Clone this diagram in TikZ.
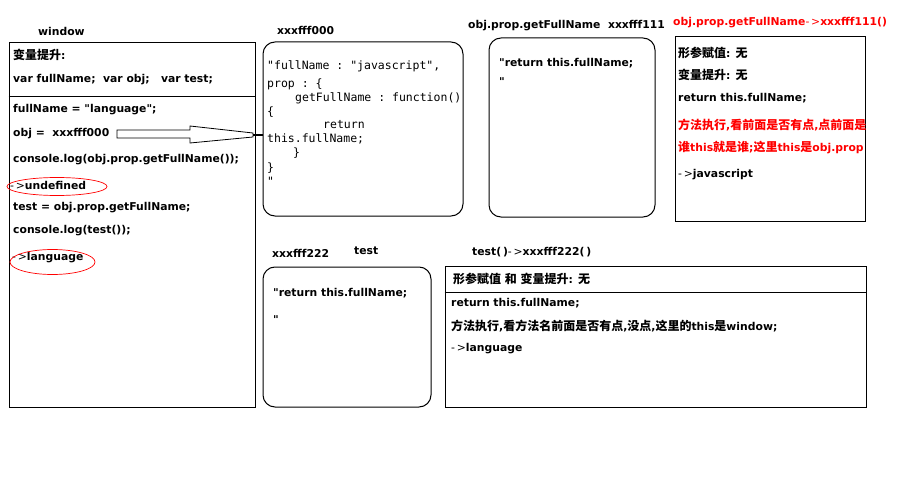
\documentclass[tikz,border=0pt]{standalone}
\usepackage{fontspec}
\setmainfont{DejaVu Sans}
\setmonofont{DejaVu Sans Mono}
\newfontfamily\cjk{Noto Sans CJK SC}
\newcommand\zh[1]{{\cjk\fontsize{12}{14}\selectfont #1}}
\newcommand\q{\textquotedbl}
\usetikzlibrary{calc,shapes.geometric}

\begin{document}
\begin{tikzpicture}[x=1pt,y=-1pt,
	txt/.style={anchor=west,inner sep=0pt,font=\fontsize{10.8}{13}\selectfont\bfseries},
	codetxt/.style={anchor=west,inner sep=0pt,font=\fontsize{11.5}{13}\selectfont\ttfamily},
	hot/.style={txt,red},
	frame/.style={draw,line width=1pt,inner sep=0pt},
	memory/.style={frame,rounded corners=12pt},
	oval/.style={draw=red,ellipse,line width=0.7pt,inner sep=0pt}]
	\useasboundingbox[fill=white](0,0)rectangle(910,492);
	% window scope
	\node[txt] (wintitle) at (38,31) {window};
	\node[frame,minimum width=246,minimum height=364] (win) at (132,225) {};
	\draw[line width=1pt] (win.west|-0,97)--(win.east|-0,97);
	\node[txt] (hoist) at (13,55) {\zh{变量提升}:};
	\node[txt] (vars) at (13,80) {var fullName;\ \ var obj;\ \ \ var test;};
	\node[txt] (setname) at (13,110) {fullName = \q language\q;};
	\node[txt] (objline) at (13,134) {obj =\ \ xxxfff000};
	\node[txt] (log1) at (13,160) {console.log(obj.prop.getFullName());};
	\node[txt] (res1) at (10,185) {{\mdseries -\,>}undefined};
	\node[txt] (settest) at (13,208) {test = obj.prop.getFullName;};
	\node[txt] (log2) at (13,231) {console.log(test());};
	\node[txt] (res2) at (12,258) {{\mdseries -\,>}language};
	\node[oval,minimum width=100,minimum height=18] (oval1) at (57,186.5) {};
	\node[oval,minimum width=85,minimum height=25] (oval2) at (52.5,262) {};
	% heap object xxxfff000
	\node[txt] (mem0title) at (277,30) {xxxfff000};
	\node[memory,minimum width=200,minimum height=174] (mem0) at (363,129) {};
	\node[codetxt] (c1) at (267,66) {"fullName : "javascript",};
	\node[codetxt] (c2) at (267,84) {prop : \{};
	\node[codetxt] (c3) at (295,98) {getFullName : function()};
	\node[codetxt] (c4) at (267,112) {\{};
	\node[codetxt] (c5) at (323,125) {return};
	\node[codetxt] (c6) at (267,139) {this.fullName;};
	\node[codetxt] (c7) at (293,153) {\}};
	\node[codetxt] (c8) at (267,168) {\}};
	\node[codetxt] (c9) at (267,181) {"};
	% fat arrow obj -> xxxfff000
	\coordinate (arrowtail) at (117,134);
	\draw[line width=0.8pt] (arrowtail)++(0,-4)--++(73,0)--++(0,-4)--++(63,7)--++(0,4)
		--++(-63,6)--++(0,-5)--++(-73,0)--cycle;
	\draw[line width=2pt] ($(arrowtail)+(136,1)$)--($(mem0.west|-arrowtail)+(0,1)$);
	% heap function xxxfff111
	\node[txt] (mem1title) at (468,26) {obj.prop.getFullName\ \ xxxfff111};
	\node[memory,minimum width=166,minimum height=179] (mem1) at (572,127.5) {};
	\node[txt] (f1a) at (499,63) {\q return this.fullName;};
	\node[txt] (f1b) at (499,82) {\q};
	% execution of obj.prop.getFullName()
	\node[hot] (ctx1title) at (673,23) {obj.prop.getFullName{\mdseries -\,>}xxxfff111()};
	\node[frame,minimum width=190,minimum height=184] (ctx1) at (770,129) {};
	\node[txt] (e1) at (678,53) {\zh{形参赋值}: \zh{无}};
	\node[txt] (e2) at (678,75) {\zh{变量提升}: \zh{无}};
	\node[txt] (e3) at (678,98) {return this.fullName;};
	\node[hot] (e4) at (678,125) {\zh{方法执行},\zh{看前面是否有点},\zh{点前面是}};
	\node[hot] (e5) at (678,147) {\zh{谁}this\zh{就是谁};\zh{这里}this\zh{是}obj.prop};
	\node[txt] (e6) at (678,175) {{\mdseries -\,>}javascript};
	% heap function xxxfff222
	\node[txt] (mem2title) at (272,253) {xxxfff222};
	\node[txt] (testname) at (354,251) {test};
	\node[memory,minimum width=168,minimum height=140] (mem2) at (347,337) {};
	\node[txt] (f2a) at (273,293) {\q return this.fullName;};
	\node[txt] (f2b) at (273,320) {\q};
	% execution of test()
	\node[txt] (ctx2title) at (472,252) {test(\,){\mdseries -\,>}xxxfff222(\,)};
	\node[frame,minimum width=421,minimum height=141] (ctx2) at (655.5,336.5) {};
	\draw[line width=1pt] (ctx2.west|-0,292)--(ctx2.east|-0,292);
	\node[txt] (g1) at (453,279) {\zh{形参赋值} \zh{和} \zh{变量提升}: \zh{无}};
	\node[txt] (g2) at (451,303) {return this.fullName;};
	\node[txt] (g3) at (451,326) {\zh{方法执行},\zh{看方法名前面是否有点},\zh{没点},\zh{这里的}this\zh{是}window;};
	\node[txt] (g4) at (451,349) {{\mdseries -\,>}language};
\end{tikzpicture}
\end{document}
